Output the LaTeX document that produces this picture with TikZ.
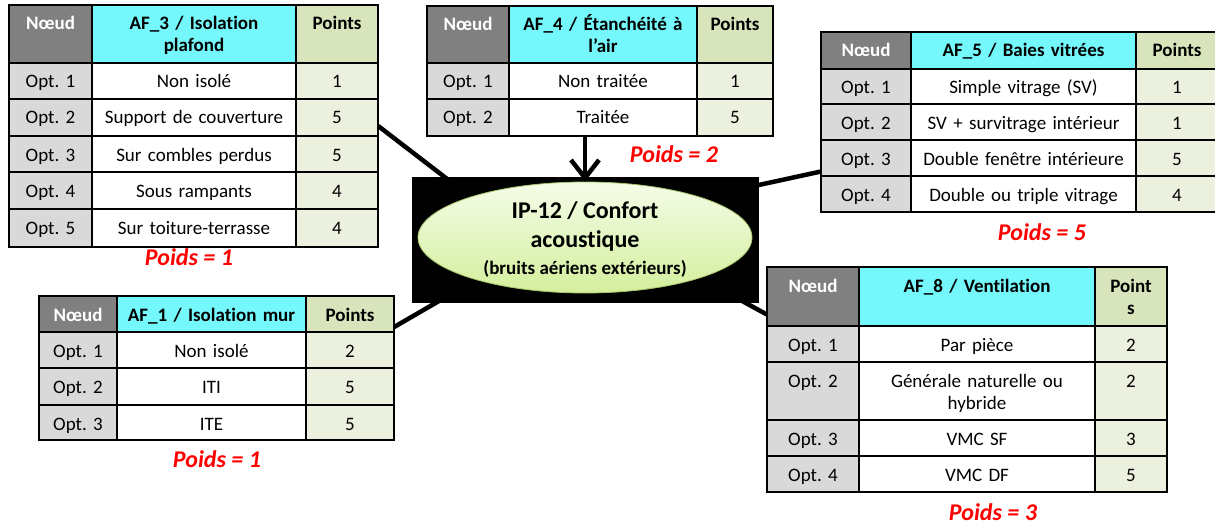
\documentclass[tikz,border=0pt]{standalone}
\usepackage{fontspec}
\setmainfont{Carlito}[Ligatures=NoCommon]
\frenchspacing
\usetikzlibrary{arrows.meta,fit,shapes.geometric}
\definecolor{nhead}{HTML}{808080}
\definecolor{chead}{HTML}{74F8FC}
\definecolor{phead}{HTML}{D8E4BC}
\definecolor{ocell}{HTML}{D9D9D9}
\definecolor{pcell}{HTML}{EBF1DE}
\definecolor{elltop}{HTML}{F5FCE8}
\definecolor{ellbot}{HTML}{D3EF9C}
\definecolor{elldraw}{HTML}{A6C46A}
\tikzset{
  celltext/.style={anchor=base, align=center, inner sep=0pt, font=\fontsize{19}{22}\selectfont},
  poids/.style={anchor=base, text=red, inner sep=0pt, font=\fontsize{24}{28}\selectfont\bfseries\itshape},
  link/.style={line width=4.5pt},
  tabfit/.style={inner sep=0pt},
}
\newcommand\tcell[7]{%
  \path[draw=black, line width=1.3pt, fill=#6] (#2,#3) rectangle (#4,#5);
  \pgfmathsetlengthmacro\cellw{(#4-#2-4)*1pt}%
  \node[celltext, text width=\cellw] (#1) at ({(#2+#4)/2},{#3+25}) {#7};
}
\newcommand\setcols[4]{\def\cxa{#1}\def\cxb{#2}\def\cxc{#3}\def\cxd{#4}}
\newcommand\thead[5]{%
  \tcell{#1n}{\cxa}{#2}{\cxb}{#3}{nhead}{\textcolor{white}{\bfseries Nœud}}
  \tcell{#1t}{\cxb}{#2}{\cxc}{#3}{chead}{\bfseries #4}
  \tcell{#1q}{\cxc}{#2}{\cxd}{#3}{phead}{\bfseries #5}}
\newcommand\trow[6]{%
  \tcell{#1o}{\cxa}{#2}{\cxb}{#3}{ocell}{#4}
  \tcell{#1l}{\cxb}{#2}{\cxc}{#3}{white}{#5}
  \tcell{#1p}{\cxc}{#2}{\cxd}{#3}{pcell}{#6}}
\begin{document}
\begin{tikzpicture}[x=1pt,y=-1pt]
\fill[white] (0,0) rectangle (1215,524);
\useasboundingbox (0,0) rectangle (1215,524);

% ---- AF_3
\setcols{9}{92}{296}{378}
\thead{a3h}{5}{63}{AF\_3 / Isolation\\plafond}{Points}
\trow{a3r1}{63}{99}{Opt. 1}{Non isolé}{1}
\trow{a3r2}{99}{136}{Opt. 2}{Support de couverture}{5}
\trow{a3r3}{136}{172}{Opt. 3}{Sur combles perdus}{5}
\trow{a3r4}{172}{209}{Opt. 4}{Sous rampants}{4}
\trow{a3r5}{209}{247}{Opt. 5}{Sur toiture-terrasse}{4}
\node[fit={(9,5) (378,247)}, tabfit] (tab3) {};
\node[poids] (w3) at (189,265) {Poids = 1};

% ---- AF_4
\setcols{427}{509}{697}{773}
\thead{a4h}{6}{63}{AF\_4 / Étanchéité à\\l’air}{Points}
\trow{a4r1}{63}{99}{Opt. 1}{Non traitée}{1}
\trow{a4r2}{99}{136}{Opt. 2}{Traitée}{5}
\node[fit={(427,6) (773,136)}, tabfit] (tab4) {};
\node[poids] (w4) at (674,162) {Poids = 2};

% ---- AF_5
\setcols{821}{911}{1136}{1218}
\thead{a5h}{32}{69}{AF\_5 / Baies vitrées}{Points}
\trow{a5r1}{69}{104}{Opt. 1}{Simple vitrage (SV)}{1}
\trow{a5r2}{104}{140}{Opt. 2}{SV + survitrage intérieur}{1}
\trow{a5r3}{140}{176}{Opt. 3}{Double fenêtre intérieure}{5}
\trow{a5r4}{176}{212}{Opt. 4}{Double ou triple vitrage}{4}
\node[fit={(821,32) (1218,212)}, tabfit] (tab5) {};
\node[poids] (w5) at (1042,240) {Poids = 5};

% ---- AF_1
\setcols{39}{117}{306}{394}
\thead{a1h}{296}{332}{AF\_1 / Isolation mur}{Points}
\trow{a1r1}{332}{368}{Opt. 1}{Non isolé}{2}
\trow{a1r2}{368}{405}{Opt. 2}{ITI}{5}
\trow{a1r3}{405}{440}{Opt. 3}{ITE}{5}
\node[fit={(39,296) (394,440)}, tabfit] (tab1) {};
\node[poids] (w1) at (217,467) {Poids = 1};

% ---- AF_8
\setcols{767}{859}{1095}{1167}
\thead{a8h}{267}{326}{AF\_8 / Ventilation}{Point\\s}
\trow{a8r1}{326}{362}{Opt. 1}{Par pièce}{2}
\trow{a8r2}{362}{420}{Opt. 2}{Générale naturelle ou\\hybride}{2}
\trow{a8r3}{420}{456}{Opt. 3}{VMC SF}{3}
\trow{a8r4}{456}{492}{Opt. 4}{VMC DF}{5}
\node[fit={(767,267) (1167,492)}, tabfit] (tab8) {};
\node[poids] (w8) at (993,520) {Poids = 3};

% ---- connectors (hidden ends behind the central box)
\coordinate (e3) at (468,195);
\coordinate (e1) at (458,290);
\coordinate (e5) at (745,188);
\coordinate (e8) at (722,290);
\draw[link] (tab3.east) -- (e3);
\draw[link] (tab1.13.6) -- (e1);
\draw[link] (tab5.194.2) -- (e5);
\draw[link] (tab8.162.9) -- (e8);

% ---- central node
\node[fill=black, minimum width=347pt, minimum height=126pt, inner sep=0pt] (ipbox) at (585.5,240) {};
\node[ellipse, draw=elldraw, line width=0.8pt, top color=elltop, bottom color=ellbot,
      minimum width=334pt, minimum height=111pt, inner sep=0pt] (ip) at (585,237.5) {};
\node[anchor=base, inner sep=0pt, font=\fontsize{24}{28}\selectfont\bfseries] (ipa) at (585,218) {IP-12 / Confort};
\node[anchor=base, inner sep=0pt, font=\fontsize{24}{28}\selectfont\bfseries] (ipb) at (585,247) {acoustique};
\node[anchor=base, inner sep=0pt, font=\fontsize{19}{22}\selectfont\bfseries] (ipc) at (585,274) {(bruits aériens extérieurs)};

\draw[line width=4.5pt, -{Straight Barb[length=18pt,width=28pt]}] (tab4.south -| ip.north) -- (ip.north);
\end{tikzpicture}
\end{document}
